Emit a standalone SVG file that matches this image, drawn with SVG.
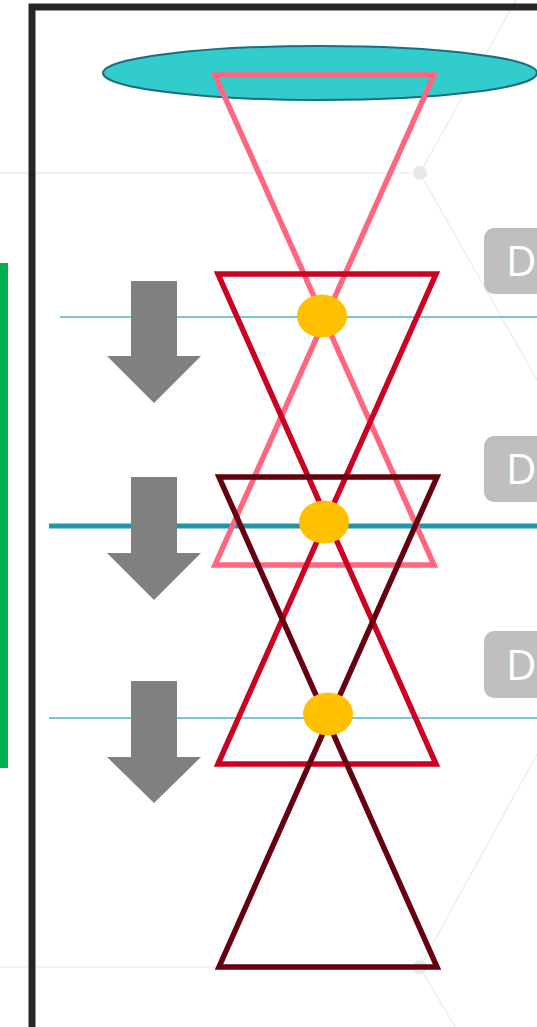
<svg xmlns="http://www.w3.org/2000/svg" width="537" height="1027" viewBox="0 0 537 1027">
  <style>
    .bg-line { stroke: #EEEEEE; stroke-width: 1.5; fill: none; }
    .bg-dot { fill: #E8E8E8; }
    .level-thin { stroke: #4EB3C2; stroke-width: 1.5; fill: none; }
    .level-thick { stroke: #2097AA; stroke-width: 5; fill: none; }
    .cone { fill: none; stroke-width: 5.5; stroke-linejoin: miter; }
    .focus { fill: #FFC000; }
    .arrow { fill: #808080; }
    .tag rect { fill: #BFBFBF; }
    .tag text { fill: #FFFFFF; font-family: "Open Sans", "Liberation Sans", sans-serif; font-size: 42px; }
  </style>

  <rect width="537" height="1027" fill="#FFFFFF"/>

  <!-- faint background network -->
  <g id="background">
    <line class="bg-line" x1="0" y1="173" x2="420" y2="173"/>
    <line class="bg-line" x1="420" y1="173" x2="516" y2="0"/>
    <line class="bg-line" x1="420" y1="173" x2="537" y2="380"/>
    <line class="bg-line" x1="0" y1="967" x2="420" y2="967"/>
    <line class="bg-line" x1="420" y1="967" x2="537" y2="754"/>
    <line class="bg-line" x1="420" y1="967" x2="455" y2="1027"/>
    <circle class="bg-dot" cx="420" cy="173" r="7"/>
    <circle class="bg-dot" cx="420" cy="967" r="7"/>
  </g>

  <!-- frame -->
  <g id="frame">
    <path d="M32 1027 V7 H537" fill="none" stroke="#262626" stroke-width="7"/>
  </g>

  <!-- green side bar -->
  <g id="side-bar">
    <rect x="0" y="263" width="8" height="505" fill="#00B050"/>
  </g>

  <!-- lens -->
  <g id="lens">
    <ellipse cx="320" cy="73" rx="217" ry="27" fill="#33CCCC" stroke="#1B6E80" stroke-width="2"/>
  </g>

  <!-- horizontal levels -->
  <g id="levels">
    <line class="level-thin" x1="60" y1="317" x2="537" y2="317"/>
    <line class="level-thick" x1="49" y1="526" x2="537" y2="526"/>
    <line class="level-thin" x1="49" y1="718" x2="537" y2="718"/>
  </g>

  <!-- beam cones -->
  <g id="cone-1">
    <path class="cone" stroke="#FF6680" d="M215 75 H434 L215 565 H434 Z"/>
  </g>
  <g id="cone-2">
    <path class="cone" stroke="#CC0022" d="M218 274 H436 L218 764 H436 Z"/>
  </g>
  <g id="cone-3">
    <path class="cone" stroke="#660011" d="M219 477 H437 L219 967 H437 Z"/>
  </g>

  <!-- focal points -->
  <g id="focus-1"><ellipse class="focus" cx="322" cy="316" rx="25" ry="21.5"/></g>
  <g id="focus-2"><ellipse class="focus" cx="324" cy="522" rx="25" ry="21.5"/></g>
  <g id="focus-3"><ellipse class="focus" cx="328" cy="714" rx="25" ry="21.5"/></g>

  <!-- downward arrows -->
  <g id="arrow-1"><path class="arrow" d="M131 281 H177 V356 H201 L154 403 L107 356 H131 Z"/></g>
  <g id="arrow-2"><path class="arrow" d="M131 477 H177 V553 H201 L154 600 L107 553 H131 Z"/></g>
  <g id="arrow-3"><path class="arrow" d="M131 681 H177 V757 H201 L154 803 L107 757 H131 Z"/></g>

  <!-- tags -->
  <g id="tag-1" class="tag">
    <rect x="484" y="228" width="80" height="66" rx="10"/>
    <text x="506" y="276">D</text>
  </g>
  <g id="tag-2" class="tag">
    <rect x="484" y="436" width="80" height="66" rx="10"/>
    <text x="506" y="484">D</text>
  </g>
  <g id="tag-3" class="tag">
    <rect x="484" y="631" width="80" height="67" rx="10"/>
    <text x="506" y="680">D</text>
  </g>
</svg>
